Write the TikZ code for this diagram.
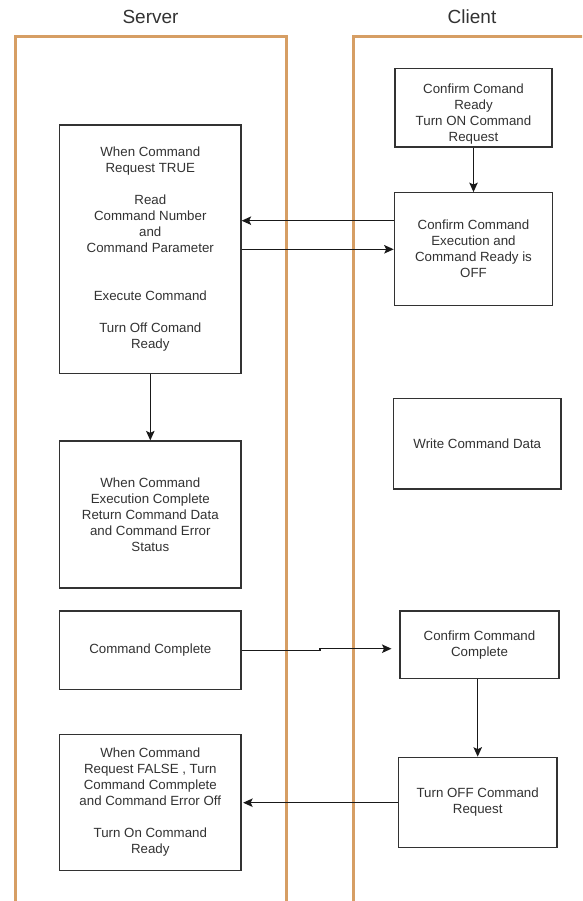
\documentclass[tikz,border=0pt]{standalone}
\usepackage{fontspec}
\setmainfont{Liberation Sans}
\usetikzlibrary{arrows.meta}
\definecolor{lane}{RGB}{214,158,100}
\definecolor{ink}{RGB}{50,50,50}
\begin{document}
\begin{tikzpicture}[x=1pt,y=-1pt,
  lanebox/.style={draw=lane,line width=3pt},
  lanetitle/.style={font=\fontsize{19}{23}\selectfont,text=ink,inner sep=0pt},
  txt/.style={inner sep=0pt,align=center,text=ink,font=\fontsize{13.3}{16}\selectfont},
  box/.style={txt,draw=ink,line width=1.2pt,fill=white},
  arr/.style={draw=black!90,line width=1.2pt,-{Stealth[length=9.5pt,width=8.5pt,inset=2pt]}}]
\useasboundingbox (0,0) rectangle (582,901);
\clip (0,0) rectangle (582,901);

% swimlanes
\draw[lanebox] (15.5,910) -- (15.5,36.5) -- (286.5,36.5) -- (286.5,910);
\draw[lanebox] (353.5,910) -- (353.5,36.5) -- (600,36.5);
\node[lanetitle] (tserver) at (150.5,17) {Server};
\node[lanetitle] (tclient) at (472,17) {Client};

% server side
\node[box,minimum width=181.5,minimum height=248.5] (s1) at (150.3,249.2)
  {When Command\\Request TRUE\\[16pt]Read\\Command Number\\and\\Command Parameter\\[32pt]Execute Command\\[16pt]Turn Off Comand\\Ready};
\node[box,minimum width=181.5,minimum height=147] (s2) at (150.3,514.5)
  {When Command\\Execution Complete\\Return Command Data\\and Command Error\\Status};
\node[box,minimum width=181.5,minimum height=78.7] (s3) at (150.3,650.3)
  {Command Complete};
\node[box,minimum width=181.5,minimum height=135.6] (s4) at (150.3,802.5)
  {When Command\\Request FALSE , Turn\\Command Commplete\\and Command Error Off\\[16pt]Turn On Command\\Ready};

% client side
\node[box,minimum width=157,minimum height=78.7,
  label={[txt,yshift=-6pt]center:{Confirm Comand\\Ready\\Turn ON Command\\Request}}]
  (c1) at (473.5,107.7) {};
\node[box,minimum width=158.4,minimum height=112.6] (c2) at (473.5,249)
  {Confirm Command\\Execution and\\Command Ready is\\OFF};
\node[box,minimum width=167.3,minimum height=90.3] (c3) at (477.3,443.8)
  {Write Command Data};
\node[box,minimum width=159,minimum height=67.3] (c4) at (479.5,644.7)
  {Confirm Command\\Complete};
\node[box,minimum width=158.7,minimum height=90.4] (c5) at (477.7,802.5)
  {Turn OFF Command\\Request};

% helper points for the horizontal connectors
\coordinate (yreq) at (0,220.7);
\coordinate (yexe) at (0,249.3);
\coordinate (kinkA) at (320,650.7);
\coordinate (kinkB) at (320,648.7);
\coordinate (c4in) at (391.5,648.7);
\coordinate (yoff) at (0,802.7);

% connectors
\draw[arr] (c1.south) -- (c2.north);
\draw[arr] (c2.west |- yreq) -- (s1.east |- yreq);
\draw[arr] (s1.east |- yexe) -- (c2.west |- yexe);
\draw[arr] (s1.south) -- (s2.north);
\draw[arr] (s3.east |- kinkA) -- (kinkA) -- (kinkB) -- (c4in);
\draw[arr] (c4.south -| c5.north) -- (c5.north);
\draw[arr] (c5.west |- yoff) -- ([xshift=1.5pt]s4.east |- yoff);
\end{tikzpicture}
\end{document}
